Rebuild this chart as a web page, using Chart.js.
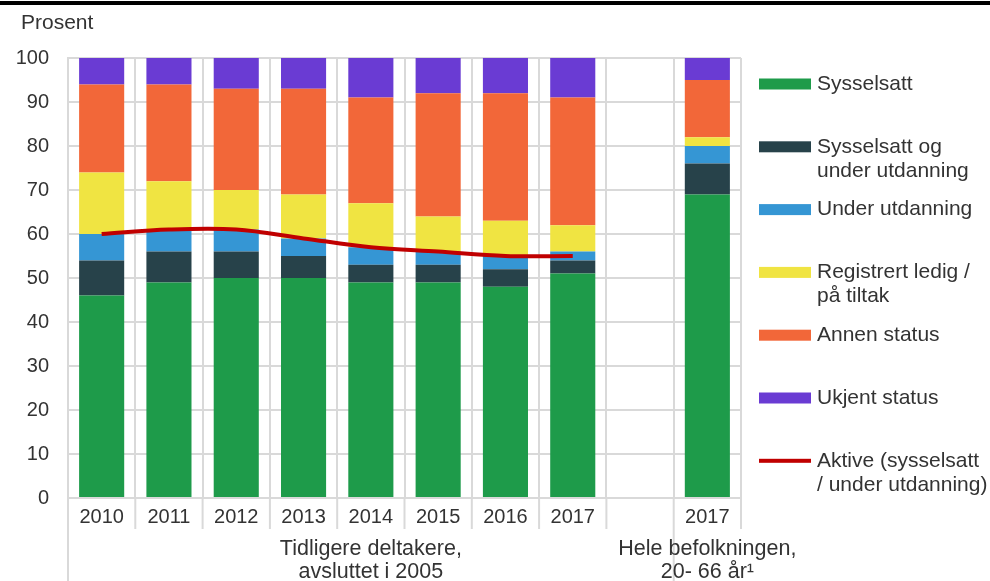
<!DOCTYPE html>
<html>
<head>
<meta charset="utf-8">
<script src="https://cdn.jsdelivr.net/npm/chart.js@4/dist/chart.umd.min.js"></script>
<style>
html,body{margin:0;padding:0;background:#fff;}
#wrap{width:990px;height:581px;position:relative;}
</style>
</head>
<body>
<div id="wrap"><canvas id="c" width="990" height="581"></canvas></div>
<script>
const categories = ['2010','2011','2012','2013','2014','2015','2016','2017','','2017'];
const groupLabels = [['Tidligere deltakere,','avsluttet i 2005'],['Hele befolkningen,','20- 66 år¹']];
const groupSpans = [[0,8],[9,9]];
const sysselsatt       = [46,49,50,50,49,49,48,51,null,69];
const sysselsattOgUtd  = [8,7,6,5,4,4,4,3,null,7];
const underUtdanning   = [6,5,5,4,4,3,3,2,null,4];
const registrertLedig  = [14,11,9,10,10,8,8,6,null,2];
const annenStatus      = [20,22,23,24,24,28,29,29,null,13];
const ukjentStatus     = [6,6,7,7,9,8,8,9,null,5];
const aktive           = [60,61,61,59,57,56,55,55,null,null];
const yTicks = [0,10,20,30,40,50,60,70,80,90,100];
const seriesNames = ['Sysselsatt',['Sysselsatt og','under utdanning'],'Under utdanning',['Registrert ledig /','på tiltak'],'Annen status','Ukjent status',['Aktive (sysselsatt','/ under utdanning)']];

const FONT = '"Liberation Sans", Arial, sans-serif';
const TXT = '#333333';
const GRID = '#d9d9d9';
const colors = ['#1e9b4a','#27424a','#3596d4','#f0e442','#f26739','#6a3bd3','#c00000'];

const barData = [sysselsatt,sysselsattOgUtd,underUtdanning,registrertLedig,annenStatus,ukjentStatus];
const datasets = barData.map((d,i)=>({
  type:'bar', label: Array.isArray(seriesNames[i])?seriesNames[i].join(' '):seriesNames[i],
  data:d, backgroundColor:colors[i], stack:'s', order:2,
  barPercentage:0.67, categoryPercentage:1.0
}));
datasets.push({
  type:'line', label:'Aktive', data:aktive, borderColor:colors[6], borderWidth:4,
  pointRadius:0, tension:0.35, fill:false, stack:'line', order:0, spanGaps:false
});

const extras = {
  id:'extras',
  afterDraw(chart){
    const ctx = chart.ctx, ca = chart.chartArea;
    ctx.save();
    ctx.fillStyle = '#000';
    ctx.fillRect(0,1,990,4);
    ctx.fillStyle = TXT;
    ctx.font = '21px ' + FONT;
    ctx.textAlign = 'left'; ctx.textBaseline = 'middle';
    ctx.fillText('Prosent', 21, 23);
    const n = categories.length;
    const w = (ca.right - ca.left)/n;
    ctx.strokeStyle = GRID; ctx.lineWidth = 2;
    for(let i=0;i<=n;i++){
      const x = ca.left + i*w;
      const longLine = groupSpans.some(g=>g[0]===i);
      ctx.beginPath();
      ctx.moveTo(x, ca.bottom);
      ctx.lineTo(x, longLine ? 581 : 529);
      ctx.stroke();
    }
    ctx.fillStyle = TXT; ctx.textAlign='center'; ctx.textBaseline='middle';
    ctx.font = '21.5px ' + FONT;
    groupSpans.forEach((g,gi)=>{
      const cx = ca.left + ((g[0] + g[1] + 1)/2)*w;
      groupLabels[gi].forEach((t,li)=>ctx.fillText(t, cx, 549 + li*23));
    });
    ctx.textAlign='left';
    ctx.font = '21px ' + FONT;
    seriesNames.forEach((nm,i)=>{
      const y = 84 + i*62.8;
      ctx.fillStyle = colors[i];
      if(i<6) ctx.fillRect(759, y-5.5, 52, 11);
      else ctx.fillRect(759, y-2, 52, 4);
      ctx.fillStyle = TXT;
      const lines = Array.isArray(nm)?nm:[nm];
      lines.forEach((t,li)=>ctx.fillText(t, 817, y + li*24));
    });
    ctx.restore();
  }
};

new Chart(document.getElementById('c'), {
  data:{labels:categories, datasets},
  options:{
    responsive:false, animation:false,
    layout:{padding:{top:58,right:249,left:0,bottom:0}},
    plugins:{legend:{display:false}, tooltip:{enabled:false}, title:{display:false}},
    scales:{
      x:{
        stacked:true, offset:true,
        grid:{color:GRID, lineWidth:2, drawTicks:false, offset:true},
        border:{color:GRID, width:2},
        ticks:{color:TXT, font:{family:FONT,size:20}, padding:7, maxRotation:0, autoSkip:false},
        afterFit(s){ s.height = 83; }
      },
      y:{
        stacked:true, min:0, max:100,
        afterBuildTicks(s){ s.ticks = yTicks.map(v=>({value:v})); },
        grid:{color:GRID, lineWidth:2, drawTicks:false},
        border:{color:GRID, width:2},
        ticks:{color:TXT, font:{family:FONT,size:20}, padding:19},
        afterFit(s){ s.width = 68; }
      }
    }
  },
  plugins:[extras]
});
</script>
</body>
</html>
